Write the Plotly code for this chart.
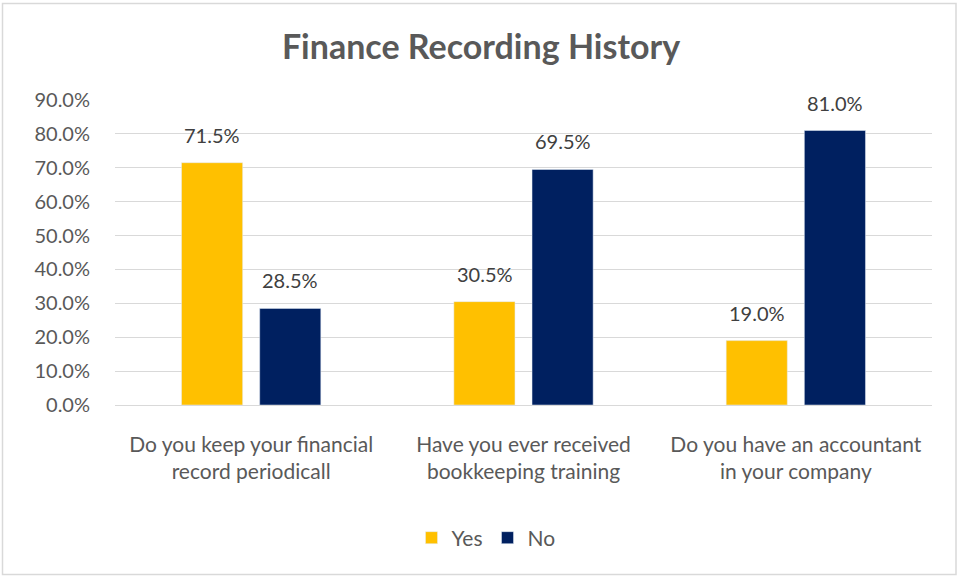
import plotly.graph_objects as go

# Survey questions (x categories) and the share answering each way
categories = [
    "Do you keep your financial<br>record periodicall",
    "Have you ever received<br>bookkeeping training",
    "Do you have an accountant<br>in your company",
]
yes_values = [0.715, 0.305, 0.190]
no_values = [0.285, 0.695, 0.810]
y_ticks = [0.0, 0.1, 0.2, 0.3, 0.4, 0.5, 0.6, 0.7, 0.8, 0.9]

FONT = "Lato, Carlito, Calibri, sans-serif"
W, H = 962, 578
ML, MR, MT, MB = 115, 30, 100, 173
GROUP_OFFSET = 39  # pixel offset of each bar centre from the category centre

fig = go.Figure()
fig.add_trace(go.Bar(name="Yes", x=categories, y=yes_values, marker_color="#FFC000"))
fig.add_trace(go.Bar(name="No", x=categories, y=no_values, marker_color="#002060"))

# Value labels above each bar
annotations = []
for values, shift in ((yes_values, -GROUP_OFFSET), (no_values, GROUP_OFFSET)):
    for cat, v in zip(categories, values):
        annotations.append(dict(
            x=cat, y=v, xref="x", yref="y", text=f"{v*100:.1f}%",
            showarrow=False, xshift=shift, yshift=14, yanchor="bottom",
            font=dict(size=20, color="#404040", family=FONT),
        ))

pw, ph = W - ML - MR, H - MT - MB
fig.update_layout(
    width=W, height=H,
    margin=dict(l=ML, r=MR, t=MT, b=MB),
    paper_bgcolor="white", plot_bgcolor="white",
    barmode="group", bargap=0.426, bargroupgap=0.218,
    title=dict(text="<b>Finance Recording History</b>", x=0.5, xanchor="center",
               y=1 - 47 / H, yanchor="middle",
               font=dict(size=34, color="#595959", family=FONT)),
    font=dict(family=FONT, color="#595959"),
    xaxis=dict(showline=False, ticks="", ticklabelstandoff=25,
               tickfont=dict(size=21, color="#595959")),
    yaxis=dict(range=[0, 0.9], tickvals=y_ticks, tickformat=".1%",
               showgrid=True, gridcolor="#D9D9D9", gridwidth=1,
               zeroline=True, zerolinecolor="#D9D9D9", zerolinewidth=1,
               tickfont=dict(size=20, color="#595959"), ticks="", ticklabelstandoff=24),
    legend=dict(orientation="h", x=(486 - ML) / pw, xanchor="center", y=-(538 - 405) / ph,
                yanchor="middle", font=dict(size=21, color="#595959"),
                itemwidth=30, traceorder="normal"),
    showlegend=True,
    annotations=annotations,
    shapes=[dict(type="rect", xref="paper", yref="paper",
                 x0=-(ML - 2.5) / pw, x1=1 + (MR - 6) / pw,
                 y0=-(MB - 3.5) / ph, y1=1 + (MT - 3.5) / ph,
                 line=dict(color="#D9D9D9", width=1.5), layer="below")],
)

fig.write_html("out.html")
